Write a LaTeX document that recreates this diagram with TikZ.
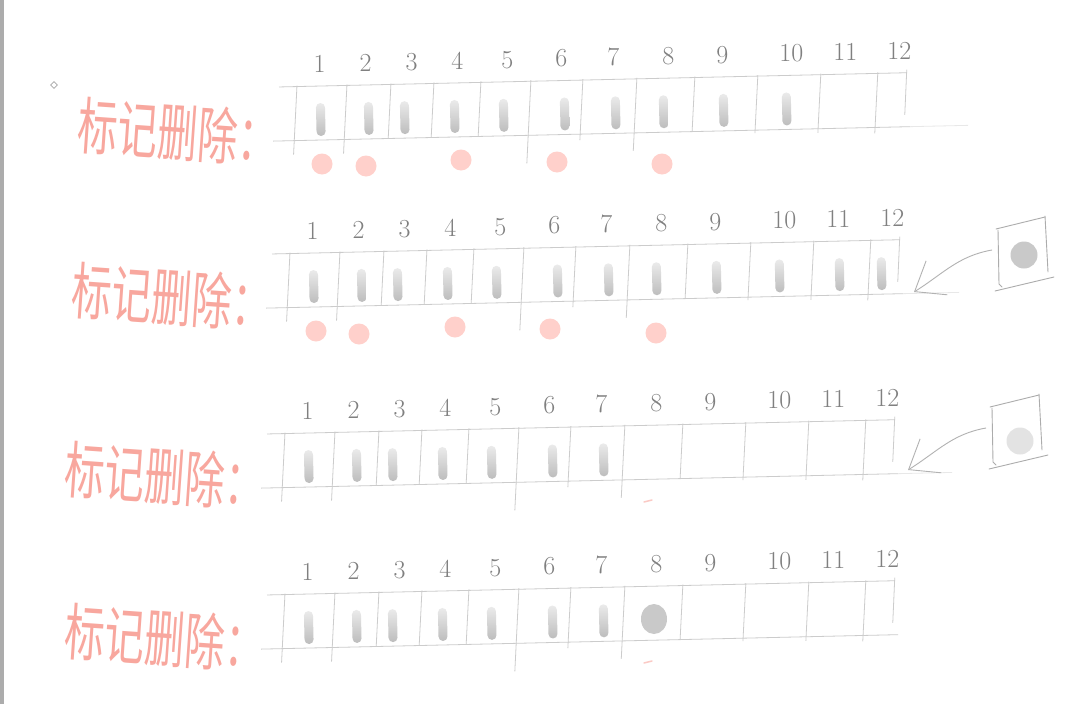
\documentclass[tikz,border=0pt]{standalone}
\usepackage{fontspec}
\newfontfamily\cjkfont{Noto Sans CJK SC}
\usetikzlibrary{arrows.meta,calc,positioning,shapes.geometric}
\definecolor{tagred}{RGB}{246,138,126}
\definecolor{dotpink}{RGB}{255,208,203}

\begin{document}
\begin{tikzpicture}[x=1pt,y=-1pt,
    grid/.style={draw=gray!40,line width=0.8pt},
    faint/.style={draw=gray!18,line width=0.8pt},
    num/.style={text=black!50,font=\fontsize{26}{26}\selectfont,inner sep=0pt},
    bar/.style={top color=gray!16,bottom color=gray!52,rounded corners=4.5pt},
    dot/.style={circle,fill=dotpink,inner sep=0pt,minimum size=21pt},
    tag/.style={text=tagred!75,font=\cjkfont\fontsize{40}{40}\selectfont,inner sep=0pt,rotate=-4},
    frame/.style={draw=gray!65,line width=0.9pt,line cap=round},
    pointer/.style={draw=gray!60,line width=0.9pt,-{Straight Barb[length=26pt,width=40pt]}}]
  \useasboundingbox[fill=white] (0,0) rectangle (1084,704);
  \fill[gray!65] (0,0) rectangle (4,704);
  \node[diamond,draw=gray!70,line width=0.6pt,inner sep=0pt,minimum size=7pt] (pin) at (54,85) {};

  % the four strips of 12 cells
  \foreach \r/\ox/\oy/\nb/\lend in {1/295/86.6/10/672, 2/288/253.6/12/670, 3/283/433.6/7/668, 4/283/594.6/7/614}{
    \begin{scope}[shift={(\ox,\oy)},rotate=1.3]
      \draw[grid] (-16,0) -- (612,0);
      \draw[grid] (-23,54) -- (614,54);
      \draw[faint] (614,54) -- (\lend,54);
      \foreach \x/\e in {0/14,50/14,94/0,137/0,184/0,234/28,286/6,340/18,398/0,461/3,524/4,581/6}
        \draw[grid] (\x+2,-1) -- ({\x-2-0.07*\e},54+\e);
      \draw[grid] (612,-3) -- (609,42);
      \foreach \x [count=\k] in {25,71,117,163,213,267,319,374,428,497,551,605}
        \node[num] (n\r_\k) at (\x,-22) {\k};
      \foreach \x [count=\k] in {25,73,109,159,208,269,320,368,428,491,551,593}
        {\ifnum\k>\nb\else\shade[bar] (\x-4.5,17) rectangle (\x+4.5,50);\fi}
    \end{scope}}

  % labels
  \foreach \p [count=\i] in {(178,132),(172,297),(165,476),(165,638)}
    \node[tag] (tag_\i) at \p {\scalebox{1}[1.55]{标记删除：}};

  % marks
  \foreach \p [count=\k] in {(322,164),(366,166),(461,160),(557,162),(662,164)}
    \node[dot] (d1_\k) at \p {};
  \foreach \p [count=\k] in {(316,331),(359,334),(455,327),(550,329),(656,333)}
    \node[dot] (d2_\k) at \p {};
  \draw[tagred!45,line width=1.5pt,line cap=round] (644,502) -- (652,500);
  \draw[tagred!45,line width=1.5pt,line cap=round] (644,663) -- (652,661);
  \node[ellipse,fill=gray!42,inner sep=0pt,minimum width=26pt,minimum height=30pt] (n4_blob) at (654,619) {};

  % new items coming in
  \foreach \q/\bx/\by/\cx/\cy/\cf in {2/1022/254/1024/255/42, 3/1016/432/1020/441/22}{
    \coordinate (box_\q) at (\bx,\by);
    \node[circle,fill=gray!\cf,inner sep=0pt,minimum size=27pt] (coin_\q) at (\cx,\cy) {};
    \draw[frame] ($(box_\q)+(-26,-25)$) -- ($(box_\q)+(23,-37)$);
    \draw[frame] ($(box_\q)+(23,-38)$) -- ($(box_\q)+(26,18)$);
    \draw[frame] ($(box_\q)+(-27,37)$) -- ($(box_\q)+(32,23)$);
    \draw[frame] ($(box_\q)+(-24,-24)$) -- ($(box_\q)+(-23,30)$) -- ($(box_\q)+(-20,33)$);
    \coordinate (tail_\q) at ($(box_\q)+(-30,-4)$);
    \coordinate (tip_\q) at ($(box_\q)+(-108,38)$);
    \draw[pointer] (tail_\q) to[out=190,in=32] (tip_\q);
  }
\end{tikzpicture}
\end{document}
